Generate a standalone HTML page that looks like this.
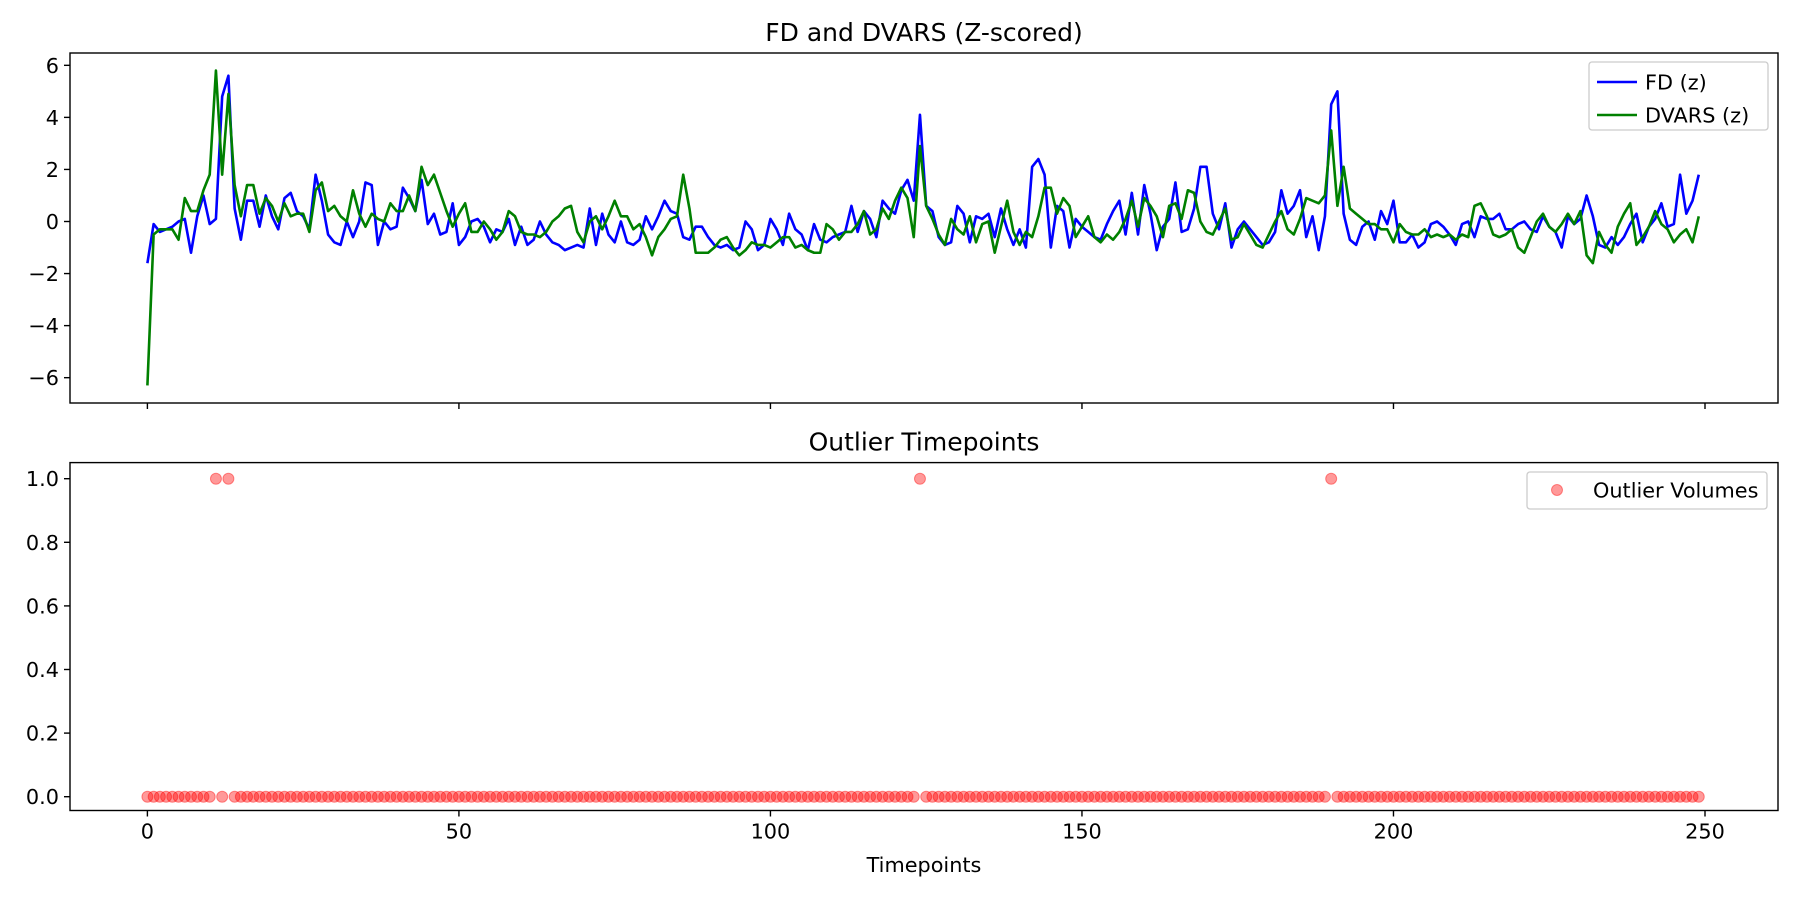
<!DOCTYPE html>
<html><head><meta charset="utf-8"><style>
html,body{margin:0;padding:0;background:#fff;}
svg{display:block;font-family:"DejaVu Sans","Liberation Sans",sans-serif;}
</style></head><body>
<svg id="fig" width="1800" height="900" viewBox="0 0 1800 900"></svg>
<script>
const timepoints = Array.from({length:250},(_,i)=>i);
const fdZ = [
-1.6,-0.1,-0.4,-0.3,-0.2,0,0.1,-1.2,0.2,1.0,
-0.1,0.1,4.8,5.6,0.5,-0.7,0.8,0.8,-0.2,1.0,
0.2,-0.3,0.9,1.1,0.4,0.2,-0.3,1.8,0.8,-0.5,
-0.8,-0.9,0,-0.6,0,1.5,1.4,-0.9,0,-0.3,
-0.2,1.3,0.9,0.4,1.6,-0.1,0.3,-0.5,-0.4,0.7,
-0.9,-0.6,0,0.1,-0.2,-0.8,-0.3,-0.4,0.1,-0.9,
-0.2,-0.9,-0.7,0,-0.5,-0.8,-0.9,-1.1,-1.0,-0.9,
-1.0,0.5,-0.9,0.3,-0.5,-0.8,0,-0.8,-0.9,-0.7,
0.2,-0.3,0.2,0.8,0.4,0.3,-0.6,-0.7,-0.2,-0.2,
-0.6,-0.9,-1.0,-0.9,-1.1,-1.0,0,-0.3,-1.1,-0.9,
0.1,-0.3,-0.9,0.3,-0.3,-0.5,-1.1,-0.1,-0.7,-0.8,
-0.6,-0.5,-0.4,0.6,-0.4,0.4,0.1,-0.6,0.8,0.5,
0.3,1.2,1.6,0.8,4.1,0.6,0.4,-0.6,-0.9,-0.8,
0.6,0.3,-0.8,0.2,0.1,0.3,-0.6,0.5,-0.3,-0.9,
-0.3,-1.0,2.1,2.4,1.8,-1.0,0.6,0.4,-1.0,0.1,
-0.2,-0.4,-0.6,-0.7,-0.1,0.4,0.8,-0.5,1.1,-0.5,
1.4,0.3,-1.1,-0.2,0.1,1.5,-0.4,-0.3,0.5,2.1,
2.1,0.3,-0.3,0.7,-1.0,-0.3,0,-0.3,-0.6,-0.9,
-0.8,-0.4,1.2,0.3,0.6,1.2,-0.6,0.2,-1.1,0.2,
4.5,5.0,0.3,-0.7,-0.9,-0.2,0,-0.7,0.4,-0.1,
0.8,-0.8,-0.8,-0.5,-1.0,-0.8,-0.1,0,-0.2,-0.5,
-0.9,-0.1,0,-0.6,0.2,0.1,0.1,0.3,-0.3,-0.3,
-0.1,0,-0.3,-0.4,0.2,-0.2,-0.4,-1.0,0.2,-0.1,
0.1,1.0,0.2,-0.9,-1.0,-0.6,-0.9,-0.6,-0.1,0.3,
-0.8,-0.2,0.1,0.7,-0.2,-0.1,1.8,0.3,0.8,1.8];
const dvarsZ = [
-6.3,-0.5,-0.3,-0.3,-0.3,-0.7,0.9,0.4,0.4,1.2,
1.8,5.8,1.8,4.9,1.4,0.2,1.4,1.4,0.3,0.9,
0.6,0,0.7,0.2,0.3,0.3,-0.4,1.2,1.5,0.4,
0.6,0.2,0,1.2,0.3,-0.2,0.3,0.1,0,0.7,
0.4,0.4,1.0,0.4,2.1,1.4,1.8,1.1,0.4,-0.2,
0.3,0.7,-0.4,-0.4,0,-0.3,-0.7,-0.4,0.4,0.2,
-0.4,-0.5,-0.5,-0.6,-0.4,0,0.2,0.5,0.6,-0.4,
-0.8,0,0.2,-0.3,0.2,0.8,0.2,0.2,-0.3,-0.1,
-0.6,-1.3,-0.6,-0.3,0.1,0.2,1.8,0.5,-1.2,-1.2,
-1.2,-1.0,-0.7,-0.6,-1.0,-1.3,-1.1,-0.8,-0.9,-0.9,
-1.0,-0.8,-0.6,-0.6,-1.0,-0.9,-1.1,-1.2,-1.2,-0.1,
-0.3,-0.7,-0.4,-0.4,-0.1,0.4,-0.5,-0.3,0.5,0.1,
0.8,1.3,0.9,-0.6,2.9,0.6,0.1,-0.5,-0.9,0.1,
-0.3,-0.5,0.2,-0.8,-0.1,0,-1.2,-0.2,0.8,-0.4,
-0.9,-0.4,-0.6,0.2,1.3,1.3,0.3,0.9,0.6,-0.6,
-0.2,0.2,-0.6,-0.8,-0.5,-0.7,-0.4,0.1,0.8,-0.2,
0.9,0.6,0.2,-0.6,0.6,0.7,0.1,1.2,1.1,0,
-0.4,-0.5,0,0.5,-0.7,-0.6,-0.1,-0.5,-0.9,-1.0,
-0.5,0,0.4,-0.3,-0.5,0.1,0.9,0.8,0.7,1.0,
3.5,0.6,2.1,0.5,0.3,0.1,-0.1,-0.1,-0.3,-0.3,
-0.8,-0.1,-0.4,-0.5,-0.5,-0.3,-0.6,-0.5,-0.6,-0.5,
-0.7,-0.5,-0.6,0.6,0.7,0.2,-0.5,-0.6,-0.5,-0.3,
-1.0,-1.2,-0.6,0,0.3,-0.2,-0.4,-0.1,0.3,-0.1,
0.4,-1.3,-1.6,-0.4,-0.9,-1.2,-0.2,0.3,0.7,-0.9,
-0.6,-0.2,0.4,-0.1,-0.3,-0.8,-0.5,-0.3,-0.8,0.2];
const outlierIdx = [11,13,124,190];
const xTicks = [0,50,100,150,200,250];
const yTicksTop = [-6,-4,-2,0,2,4,6];
const yTicksBot = [0.0,0.2,0.4,0.6,0.8,1.0];

const NS='http://www.w3.org/2000/svg';
const svg=document.getElementById('fig');
function mk(tag,attrs,parent){const e=document.createElementNS(NS,tag);for(const k in attrs)e.setAttribute(k,attrs[k]);(parent||svg).appendChild(e);return e;}
const L=70,R=1778;
const FS=20.8, TFS=25, LW=2.6;
const xs=v=>147.4+v*(1705-147.4)/250;
const T1=53,B1=403; const y1=v=>221.5-v*26.03;
const T2=462.6,B2=810.5; const y2=v=>796.7-v*318;

const g1=mk('g',{});


function path(arr,yf){return arr.map((v,i)=>(i?'L':'M')+xs(timepoints[i]).toFixed(2)+' '+yf(v).toFixed(2)).join(' ');}
const fdLine=mk('path',{d:path(fdZ,y1),fill:'none',stroke:'#0000ff','stroke-width':LW,'stroke-linejoin':'round'},g1);


const dvLine=mk('path',{d:path(dvarsZ,y1),fill:'none',stroke:'#008000','stroke-width':LW,'stroke-linejoin':'round'},g1);


const f1=mk('rect',{x:L,y:T1,width:R-L,height:B1-T1,fill:'none',stroke:'#000','stroke-width':1.4},g1);


yTicksTop.forEach(t=>{
  const y=y1(t);
  mk('line',{x1:L-6,x2:L,y1:y,y2:y,stroke:'#000','stroke-width':1.4},g1);
  const tx=mk('text',{x:L-11,y:y+7.5,'text-anchor':'end','font-size':FS},g1);
  tx.textContent=t<0?'\u2212'+Math.abs(t):String(t);
  
  
});
xTicks.forEach(t=>{mk('line',{x1:xs(t),x2:xs(t),y1:B1,y2:B1+6,stroke:'#000','stroke-width':1.4},g1);});
const t1=mk('text',{x:(L+R)/2,y:T1-12,'text-anchor':'middle','font-size':TFS},g1);
t1.textContent='FD and DVARS (Z-scored)';


const lg=mk('g',{},g1);


mk('rect',{x:1589,y:62,width:179,height:68,rx:3,fill:'#fff','fill-opacity':0.8,stroke:'#ccc','stroke-width':1.3},lg);
mk('line',{x1:1597,x2:1637,y1:82,y2:82,stroke:'#0000ff','stroke-width':LW},lg);
const le1=mk('text',{x:1645,y:89.5,'font-size':FS},lg);le1.textContent='FD (z)';


mk('line',{x1:1597,x2:1637,y1:115,y2:115,stroke:'#008000','stroke-width':LW},lg);
const le2=mk('text',{x:1645,y:122.5,'font-size':FS},lg);le2.textContent='DVARS (z)';



const g2=mk('g',{});


timepoints.forEach(i=>{
  const v=outlierIdx.includes(i)?1:0;
  const c=mk('circle',{cx:xs(i),cy:y2(v),r:5.5,fill:'#ff0000','fill-opacity':0.4,stroke:'#ff0000','stroke-opacity':0.4,'stroke-width':1},g2);
  
  
});
const f2=mk('rect',{x:L,y:T2,width:R-L,height:B2-T2,fill:'none',stroke:'#000','stroke-width':1.4},g2);


yTicksBot.forEach(t=>{
  const y=y2(t);
  mk('line',{x1:L-6,x2:L,y1:y,y2:y,stroke:'#000','stroke-width':1.4},g2);
  const tx=mk('text',{x:L-11,y:y+7.5,'text-anchor':'end','font-size':FS},g2);
  tx.textContent=t.toFixed(1);
  
  
});
xTicks.forEach(t=>{
  mk('line',{x1:xs(t),x2:xs(t),y1:B2,y2:B2+6,stroke:'#000','stroke-width':1.4},g2);
  const tx=mk('text',{x:xs(t),y:B2+28,'text-anchor':'middle','font-size':FS},g2);
  tx.textContent=String(t);
  
  
});
const xt=mk('text',{x:(L+R)/2,y:872,'text-anchor':'middle','font-size':FS},g2);
xt.textContent='Timepoints';


const t2=mk('text',{x:(L+R)/2,y:T2-12,'text-anchor':'middle','font-size':TFS},g2);
t2.textContent='Outlier Timepoints';


const lg2=mk('g',{},g2);


mk('rect',{x:1527,y:472,width:240,height:37,rx:3,fill:'#fff','fill-opacity':0.8,stroke:'#ccc','stroke-width':1.3},lg2);
mk('circle',{cx:1557,cy:490,r:5.5,fill:'#ff0000','fill-opacity':0.4,stroke:'#ff0000','stroke-opacity':0.4},lg2);
const le3=mk('text',{x:1593,y:497.5,'font-size':FS},lg2);le3.textContent='Outlier Volumes';


</script>
</body></html>
